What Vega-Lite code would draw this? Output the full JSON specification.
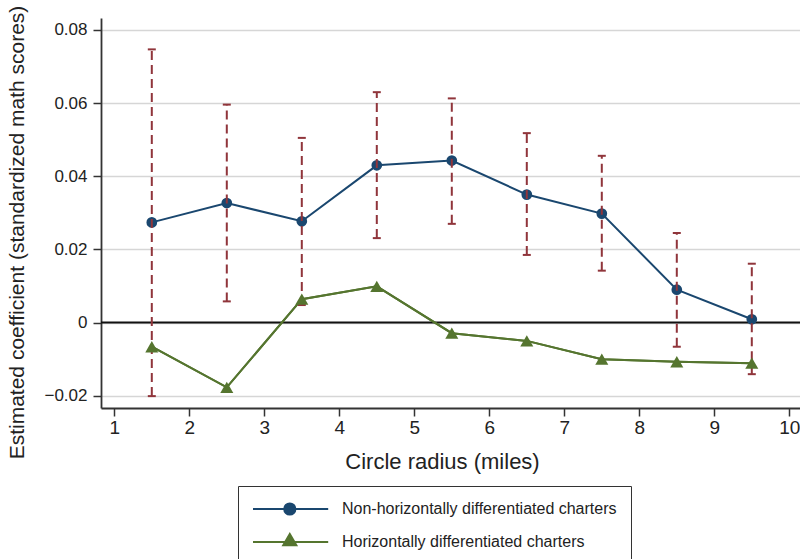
{
  "$schema": "https://vega.github.io/schema/vega-lite/v6.json",
  "autosize": {"type": "none"},
  "padding": {"left": 101, "top": 18, "right": 0, "bottom": 151},
  "width": 699,
  "height": 390,
  "background": "white",
  "config": {
    "font": "Liberation Sans",
    "view": {"stroke": null},
    "axis": {"labelFont": "Liberation Sans", "titleFont": "Liberation Sans", "labelColor": "#222", "titleColor": "#222", "titleFontWeight": "normal"}
  },
  "datasets": {
    "est": [
      {"radius": 1.5, "series": "Non-horizontally differentiated charters", "coef": 0.0274},
      {"radius": 2.5, "series": "Non-horizontally differentiated charters", "coef": 0.0327},
      {"radius": 3.5, "series": "Non-horizontally differentiated charters", "coef": 0.0277},
      {"radius": 4.5, "series": "Non-horizontally differentiated charters", "coef": 0.0430},
      {"radius": 5.5, "series": "Non-horizontally differentiated charters", "coef": 0.0443},
      {"radius": 6.5, "series": "Non-horizontally differentiated charters", "coef": 0.0350},
      {"radius": 7.5, "series": "Non-horizontally differentiated charters", "coef": 0.0298},
      {"radius": 8.5, "series": "Non-horizontally differentiated charters", "coef": 0.0090},
      {"radius": 9.5, "series": "Non-horizontally differentiated charters", "coef": 0.0009},
      {"radius": 1.5, "series": "Horizontally differentiated charters", "coef": -0.0066},
      {"radius": 2.5, "series": "Horizontally differentiated charters", "coef": -0.0177},
      {"radius": 3.5, "series": "Horizontally differentiated charters", "coef": 0.0064},
      {"radius": 4.5, "series": "Horizontally differentiated charters", "coef": 0.0099},
      {"radius": 5.5, "series": "Horizontally differentiated charters", "coef": -0.0029},
      {"radius": 6.5, "series": "Horizontally differentiated charters", "coef": -0.0050},
      {"radius": 7.5, "series": "Horizontally differentiated charters", "coef": -0.0100},
      {"radius": 8.5, "series": "Horizontally differentiated charters", "coef": -0.0107},
      {"radius": 9.5, "series": "Horizontally differentiated charters", "coef": -0.0111}
    ],
    "ci": [
      {"radius": 1.5, "lo": -0.0201, "hi": 0.0747},
      {"radius": 2.5, "lo": 0.0058, "hi": 0.0596},
      {"radius": 3.5, "lo": 0.0048, "hi": 0.0505},
      {"radius": 4.5, "lo": 0.0231, "hi": 0.0630},
      {"radius": 5.5, "lo": 0.0270, "hi": 0.0613},
      {"radius": 6.5, "lo": 0.0185, "hi": 0.0518},
      {"radius": 7.5, "lo": 0.0142, "hi": 0.0456},
      {"radius": 8.5, "lo": -0.0066, "hi": 0.0245},
      {"radius": 9.5, "lo": -0.0141, "hi": 0.0161}
    ],
    "zero": [{"v": 0}]
  },
  "encoding": {
    "x": {
      "field": "radius", "type": "quantitative",
      "scale": {"domain": [0.8227, 10.1427], "nice": false, "zero": false},
      "axis": {
        "values": [1, 2, 3, 4, 5, 6, 7, 8, 9, 10],
        "title": "Circle radius (miles)",
        "titleFontSize": 22,
        "titleX": 341, "titleY": 60, "titleBaseline": "alphabetic", "titleAlign": "center",
        "labelFontSize": 19, "labelPadding": 2,
        "tickSize": 8, "tickWidth": 1.5, "tickColor": "#333",
        "domainColor": "#333", "domainWidth": 1.8,
        "grid": false, "labelFlush": false
      }
    }
  },
  "layer": [
    {
      "data": {"name": "zero"},
      "mark": {"type": "rule", "color": "#111", "strokeWidth": 2},
      "encoding": {"y": {"field": "v", "type": "quantitative"}, "x": null}
    },
    {
      "data": {"name": "est"},
      "mark": {"type": "line", "strokeWidth": 2},
      "encoding": {
        "y": {
          "field": "coef", "type": "quantitative",
          "scale": {"domain": [-0.02335, 0.08328], "nice": false, "zero": false},
          "axis": {
            "values": [-0.02, 0, 0.02, 0.04, 0.06, 0.08],
            "labelExpr": "datum.value == 0 ? '0' : replace(format(datum.value, '.2f'), '-', '\u2212')",
            "title": "Estimated coefficient (standardized math scores)",
            "titleFontSize": 21,
            "titleX": -78, "titleY": 214, "titleBaseline": "alphabetic", "titleAlign": "center", "titleAngle": -90,
            "labelFontSize": 17, "labelPadding": 6,
            "tickSize": 8, "tickWidth": 1.5, "tickColor": "#333",
            "domainColor": "#333", "domainWidth": 1.8,
            "grid": true, "gridColor": "#d6d6d6", "gridWidth": 1.5
          }
        },
        "color": {
          "field": "series", "type": "nominal",
          "scale": {"domain": ["Non-horizontally differentiated charters", "Horizontally differentiated charters"], "range": ["#1a476f", "#55752f"]},
          "legend": {
            "title": null,
            "orient": "none",
            "legendX": 137,
            "legendY": 468,
            "direction": "vertical",
            "padding": 14,
            "strokeColor": "#333",
            "fillColor": "white",
            "symbolSize": 256,
            "symbolStrokeWidth": 2,
            "labelOffset": 72,
            "labelFontSize": 16,
            "labelFont": "Liberation Sans",
            "labelColor": "#222",
            "labelLimit": 500,
            "rowPadding": 11,
            "encode": {
              "symbols": {
                "update": {
                  "shape": {"signal": "datum.value === 'Non-horizontally differentiated charters' ? 'M-1,0H8.4M3.6,-0.7A0.7,0.7,0,1,1,3.6,0.7A0.7,0.7,0,1,1,3.6,-0.7Z' : 'M-1,0H8.4M3.6,-1L4.42,0.42L2.78,0.42Z'"},
                  "fill": {"signal": "datum.value === 'Non-horizontally differentiated charters' ? '#1a476f' : '#55752f'"},
                  "stroke": {"signal": "datum.value === 'Non-horizontally differentiated charters' ? '#1a476f' : '#55752f'"},
                  "strokeWidth": {"value": 2},
                  "opacity": {"value": 1},
                  "fillOpacity": {"value": 1}
                }
              }
            }
          }
        }
      }
    },
    {
      "data": {"name": "est"},
      "transform": [{"filter": "datum.series === 'Non-horizontally differentiated charters'"}],
      "mark": {"type": "point", "shape": "circle", "filled": true, "opacity": 1, "size": 115, "color": "#1a476f"},
      "encoding": {"y": {"field": "coef", "type": "quantitative"}}
    },
    {
      "data": {"name": "ci"},
      "mark": {"type": "rule", "color": "#90353b", "strokeWidth": 2, "strokeDash": [9, 5]},
      "encoding": {"y": {"field": "lo", "type": "quantitative"}, "y2": {"field": "hi"}}
    },
    {
      "data": {"name": "ci"},
      "mark": {"type": "tick", "orient": "horizontal", "color": "#90353b", "size": 8, "thickness": 2, "opacity": 1},
      "encoding": {"y": {"field": "hi", "type": "quantitative"}}
    },
    {
      "data": {"name": "ci"},
      "mark": {"type": "tick", "orient": "horizontal", "color": "#90353b", "size": 8, "thickness": 2, "opacity": 1},
      "encoding": {"y": {"field": "lo", "type": "quantitative"}}
    },
    {
      "data": {"name": "est"},
      "transform": [{"filter": "datum.series === 'Horizontally differentiated charters'"}],
      "mark": {"type": "line", "strokeWidth": 2, "color": "#55752f"},
      "encoding": {"y": {"field": "coef", "type": "quantitative"}}
    },
    {
      "data": {"name": "est"},
      "transform": [{"filter": "datum.series === 'Horizontally differentiated charters'"}],
      "mark": {"type": "point", "shape": "triangle-up", "filled": true, "opacity": 1, "size": 170, "color": "#55752f"},
      "encoding": {"y": {"field": "coef", "type": "quantitative"}}
    }
  ]
}
